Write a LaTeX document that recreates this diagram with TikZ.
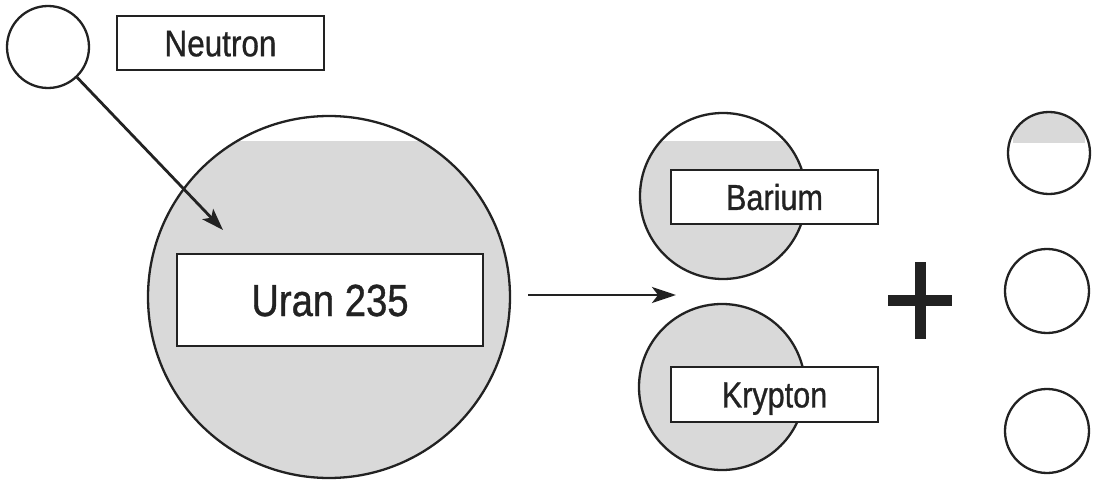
\documentclass[tikz,border=0pt]{standalone}
\usepackage{fontspec}
\setmainfont{Liberation Sans}[FakeStretch=0.85,FakeBold=0.8]
\usetikzlibrary{arrows.meta}
\definecolor{ink}{HTML}{222222}
\definecolor{atom}{HTML}{D9D9D9}
\begin{document}
\begin{tikzpicture}[x=1pt,y=-1pt,
  ring/.style={circle,draw=ink,line width=2.3pt,inner sep=0pt},
  labelbox/.style={draw=ink,line width=1.6pt,fill=white,inner sep=0pt,text=ink,text depth=0pt},
  arr/.style={draw=ink,line width=2.8pt,-{Stealth[length=24pt,width=16pt,inset=6pt]}}]
\useasboundingbox (0,0) rectangle (1093,484);
% gray fills
\begin{scope}
  \clip (0,142) rectangle (1093,484);
  \fill[atom] (329,297) circle (181pt);
  \fill[atom] (723,196) circle (83pt);
  \fill[atom] (722,387) circle (83pt);
\end{scope}
\begin{scope}
  \clip (1013,100) rectangle (1085,143);
  \fill[atom] (1049,153) circle (41pt);
\end{scope}
% circles
\node[ring,minimum size=82pt] (nc) at (48,47) {};
\node[ring,minimum size=362pt] (uc) at (329,297) {};
\node[ring,minimum size=166pt] (bc) at (723,196) {};
\node[ring,minimum size=166pt] (kc) at (722,387) {};
\node[ring,minimum size=82pt] (p1) at (1049,153) {};
\node[ring,minimum size=84pt] (p2) at (1047,291) {};
\node[ring,minimum size=84pt] (p3) at (1047,431) {};
% label boxes
\node[labelbox,minimum width=207pt,minimum height=54pt,text height=26.5pt,font=\fontsize{37}{40}\selectfont] (nb) at (220.5,43) {Neutron};
\node[labelbox,minimum width=306pt,minimum height=92pt,text height=32pt,font=\fontsize{45}{50}\selectfont] (ub) at (330,300) {Uran 235};
\node[labelbox,minimum width=207pt,minimum height=54pt,text height=25.8pt,font=\fontsize{36}{40}\selectfont] (bb) at (774.5,197) {Barium};
\node[labelbox,minimum width=207pt,minimum height=55pt,text height=25.8pt,font=\fontsize{36}{40}\selectfont] (kb) at (774.5,394.5) {Krypton};
% arrows
\coordinate (nt) at (223,230);
\draw[arr,-{Stealth[length=22pt,width=15pt,inset=5pt]}] (nc) -- (nt);
\coordinate (ft) at (676,295);
\draw[arr,shorten <=17pt] ([yshift=2pt]uc.east) -- (ft);
% plus sign
\draw[ink,line width=11pt] (888,300) -- (952,300);
\draw[ink,line width=11pt] (920.5,262) -- (920.5,339);
\end{tikzpicture}
\end{document}
